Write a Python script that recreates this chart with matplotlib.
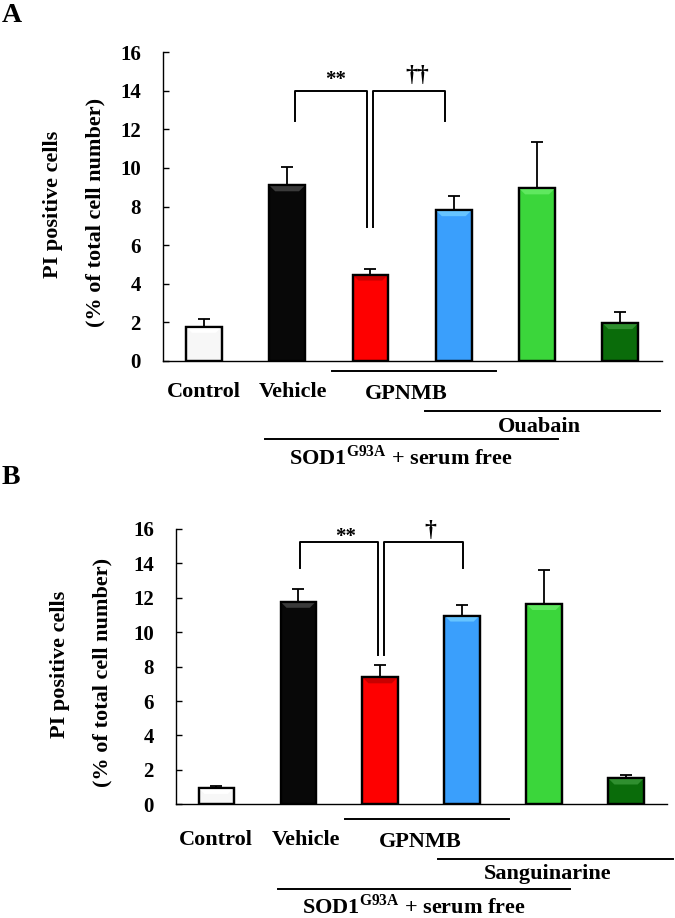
import matplotlib
matplotlib.use('Agg')
import matplotlib.pyplot as plt
import matplotlib.transforms as mtransforms
from matplotlib.patches import Polygon

plt.rcParams['font.family'] = ['Liberation Serif', 'DejaVu Serif']
plt.rcParams['font.weight'] = 'bold'
plt.rcParams['mathtext.fontset'] = 'custom'
plt.rcParams['mathtext.rm'] = 'Liberation Serif:bold'
plt.rcParams['mathtext.bf'] = 'Liberation Serif:bold'

# --- data ---
yticks = [0, 2, 4, 6, 8, 10, 12, 14, 16]
bar_colors = ['#f7f7f7', '#080808', '#fe0000', '#3a9ffc', '#3bd63b', '#0a6c0a']
top_colors = ['#ffffff', '#3a3a3a', '#c80000', '#66c4ff', '#5fe85f', '#2f8f2f']

a_mean = [1.76, 9.10, 4.47, 7.81, 8.94, 1.95]
a_err = [0.38, 0.95, 0.28, 0.74, 2.41, 0.56]
b_mean = [0.95, 11.77, 7.38, 10.97, 11.64, 1.50]
b_err = [0.13, 0.75, 0.71, 0.61, 1.95, 0.18]

# brackets: (x_left, x_right, y_top, y_left_bottom, y_right_bottom, label, label_x, label_y)
a_sig = [(1.10, 1.964, 14.0, 12.44, 6.92, '**', 1.58, 14.05),
         (2.036, 2.89, 14.0, 6.92, 12.44, '\u2020\u2020', 2.56, 14.25)]
b_sig = [(1.02, 1.97, 15.27, 13.76, 8.68, '**', 1.58, 14.95),
         (2.05, 3.01, 15.27, 8.68, 13.76, '\u2020', 2.61, 15.3)]

# group lines under the axis: (x_start, x_end, px_below)
a_lines = [(1.54, 3.51, 10), (2.65, 5.47, 50), (0.74, 4.25, 78)]
b_lines = [(1.57, 3.57, 15), (2.71, 5.57, 55), (0.75, 4.32, 85)]
# labels under the axis: (text, x, px_below)
sod = r'SOD1$^{\mathrm{G93A}}$ + serum free'
a_labels = [('Control', 0.0, 31), ('Vehicle', 1.07, 31), ('GPNMB', 2.43, 33),
            ('Ouabain', 4.03, 66), (sod, 2.37, 97)]
b_labels = [('Control', 0.0, 36), ('Vehicle', 1.09, 36), ('GPNMB', 2.49, 38),
            ('Sanguinarine', 4.04, 70), (sod, 2.41, 102)]

fig = plt.figure(figsize=(6.75, 9.18), dpi=100)
W, H = 675, 918


def panel(rect, mean, err, sig, lines, labels, letter, letter_xy, ylab_x):
    ax = fig.add_axes(rect)
    x = list(range(len(mean)))
    width = 0.43
    ax.bar(x, mean, width=width, color=bar_colors, edgecolor='black', linewidth=1.6, zorder=3)
    ax.errorbar(x, mean, yerr=[[0] * len(err), err], fmt='none', ecolor='black',
                elinewidth=1.3, capsize=4, capthick=1.3, zorder=2)
    ax.set_xlim(-0.49, 5.5)
    ax.set_ylim(0, 16)
    ax.set_yticks(yticks)
    ax.set_xticks([])
    ax.tick_params(axis='y', direction='in', length=4, width=1, pad=16, labelsize=15)
    for s in ['top', 'right']:
        ax.spines[s].set_visible(False)
    ax.spines['left'].set_linewidth(1)
    ax.spines['bottom'].set_linewidth(1)

    # bevel at top of each bar
    ax_w_px = rect[2] * W
    ax_h_px = rect[3] * H
    dy = 6 / (ax_h_px / 16)
    dx = 6 / (ax_w_px / 5.99)
    for xi, m, c in zip(x, mean, top_colors):
        l, r = xi - width / 2, xi + width / 2
        d = min(dy, m * 0.4)
        ax.add_patch(Polygon([(l, m), (r, m), (r - dx, m - d), (l + dx, m - d)],
                             closed=True, facecolor=c, edgecolor='none', zorder=4))
        ax.add_patch(plt.Rectangle((l, 0), width, m, fill=False, edgecolor='black',
                                   linewidth=1.6, zorder=5))

    for x1, x2, yt, y1, y2, lab, lx, ly in sig:
        ax.plot([x1, x1, x2, x2], [y1, yt, yt, y2], color='black', lw=1.4,
                clip_on=False, zorder=6)
        fs = 17 if '\u2020' in lab else 15
        ax.text(lx, ly, lab, ha='center', va='bottom', fontsize=fs, clip_on=False)

    for xs, xe, px in lines:
        tr = mtransforms.offset_copy(ax.get_xaxis_transform(), fig=fig, y=-px / 100, units='inches')
        ax.plot([xs, xe], [0, 0], color='black', lw=1.4, transform=tr, clip_on=False)
    for txt, lx, px in labels:
        tr = mtransforms.offset_copy(ax.get_xaxis_transform(), fig=fig, y=-px / 100, units='inches')
        ax.text(lx, 0, txt, transform=tr, ha='center', va='center', fontsize=16)

    yc = 1 - (rect[1] + rect[3] / 2)
    fig.text(ylab_x[0] / W, 1 - (yc * H - 2) / H, 'PI positive cells', rotation=90,
             ha='center', va='center', fontsize=16)
    fig.text(ylab_x[1] / W, 1 - (yc * H + 6) / H, '(% of total cell number)', rotation=90,
             ha='center', va='center', fontsize=16)
    fig.text(letter_xy[0] / W, 1 - letter_xy[1] / H, letter, ha='left', va='center', fontsize=20)
    return ax


panel([163 / W, 1 - 360.7 / H, (662 - 163) / W, (360.7 - 52.3) / H],
      a_mean, a_err, a_sig, a_lines, a_labels, 'A', (2, 16), (53, 95))
panel([176 / W, 1 - 804.3 / H, (667 - 176) / W, (804.3 - 529) / H],
      b_mean, b_err, b_sig, b_lines, b_labels, 'B', (2, 478), (60, 102))

fig.savefig('out.png', dpi=100)
